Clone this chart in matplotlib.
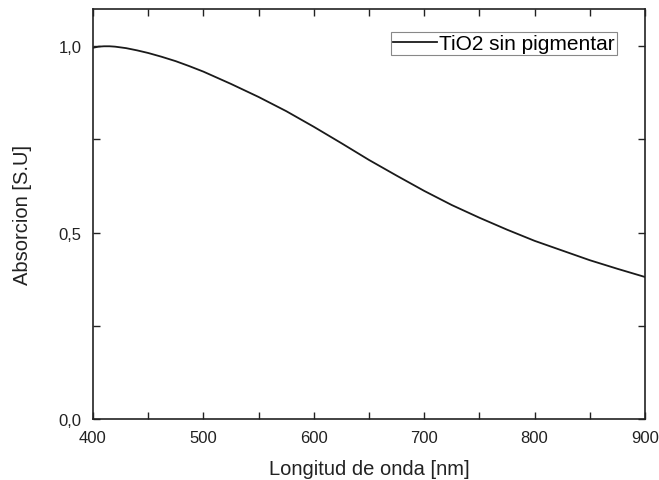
import numpy as np
import matplotlib.pyplot as plt
from matplotlib.ticker import MultipleLocator, FuncFormatter

plt.rcParams['font.family'] = ['Liberation Sans', 'DejaVu Sans']

# espectro de absorcion
longitud = [400, 405, 410, 415, 420, 430, 440, 450, 462, 475, 487, 500,
            525, 550, 575, 600, 625, 650, 675, 700, 725, 750, 775, 800,
            825, 850, 875, 900]
absorcion = [0.996, 0.999, 1.0, 1.0, 0.999, 0.995, 0.989, 0.982, 0.972,
             0.960, 0.947, 0.932, 0.899, 0.864, 0.826, 0.784, 0.740, 0.695,
             0.653, 0.612, 0.574, 0.540, 0.508, 0.478, 0.452, 0.426, 0.403,
             0.381]

fig = plt.figure(figsize=(6.59, 4.81), dpi=100)
ax = fig.add_axes([0.1411, 0.1268, 0.8377, 0.8524])

ax.plot(longitud, absorcion, color='#1a1a1a', lw=1.3, label='TiO2 sin pigmentar')

ax.set_xlim(400, 900)
ax.set_ylim(0, 1.1)
ax.xaxis.set_major_locator(MultipleLocator(100))
ax.xaxis.set_minor_locator(MultipleLocator(50))
ax.yaxis.set_major_locator(MultipleLocator(0.5))
ax.yaxis.set_minor_locator(MultipleLocator(0.25))
ax.yaxis.set_major_formatter(FuncFormatter(lambda v, p: f'{v:.1f}'.replace('.', ',')))

ax.tick_params(which='both', direction='in', top=True, right=True,
               labelsize=12, colors='#222222', width=1.0, length=5)
ax.tick_params(axis='x', pad=8)
ax.tick_params(axis='y', pad=8)
for s in ax.spines.values():
    s.set_linewidth(1.2)
    s.set_color('#222222')

ax.set_xlabel('Longitud de onda [nm]', fontsize=14.5, color='#222222')
ax.set_ylabel('Absorcion [S.U]', fontsize=14.5, color='#222222')
ax.xaxis.set_label_coords(0.5, -0.098)
ax.yaxis.set_label_coords(-0.11, 0.5)

leg = ax.legend(loc='upper right', bbox_to_anchor=(0.949, 0.944), fontsize=15,
                fancybox=False, framealpha=1, edgecolor='#888888',
                handlelength=2.1, handletextpad=0.1, borderpad=0.1,
                borderaxespad=0)
leg.get_frame().set_linewidth(0.8)

fig.savefig('out.png', dpi=100)
